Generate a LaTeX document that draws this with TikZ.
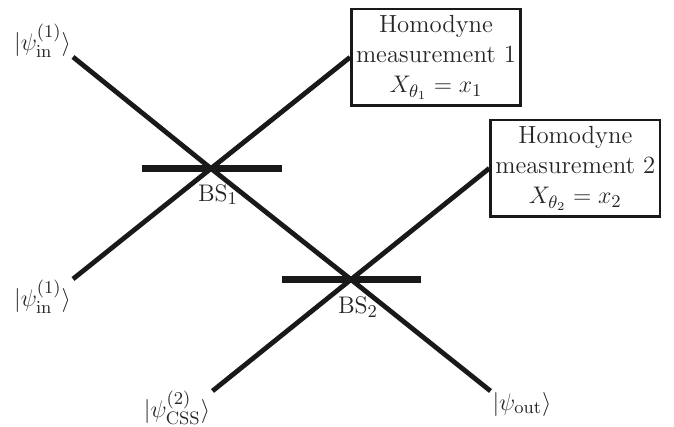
\documentclass[tikz,border=0pt]{standalone}
\begin{document}
\begin{tikzpicture}[x=0.5pt,y=-0.5pt,
  beam/.style={line width=2.4pt,black!90},
  splitter/.style={line width=3.7pt,black!90},
  lab/.style={inner sep=0pt,font=\fontsize{12.4}{15}\selectfont,text=black!85},
  meas/.style={lab,draw=black!90,line width=1.4pt,text=black!85,align=center,minimum width=84.6pt,minimum height=48.3pt}]
\useasboundingbox (0,0) rectangle (674,427);
\node[meas] (m1) at (436,57.3) {\baselineskip=15.5pt Homodyne\\measurement 1\\$X_{\theta_1}=x_1$};
\node[meas] (m2) at (575.3,168.3) {\baselineskip=15.5pt Homodyne\\measurement 2\\$X_{\theta_2}=x_2$};
\coordinate (bs1) at (211,168.5);
\coordinate (bs2) at (351,279.5);
\coordinate (a) at (73,57);
\coordinate (b) at (73,279);
\coordinate (c) at (212.5,391);
\coordinate (d) at (490.5,391);
\coordinate (bs1l) at (142,168.5);
\coordinate (bs1r) at (281.5,168.5);
\coordinate (bs2l) at (281.5,279.5);
\coordinate (bs2r) at (421,279.5);
\draw[splitter] (bs1l) -- (bs1r);
\draw[splitter] (bs2l) -- (bs2r);
\draw[beam] (a) -- (bs1) -- (bs2) -- (d);
\draw[beam] (b) -- (bs1) -- (m1.west);
\draw[beam] (c) -- (bs2) -- (m2.west);
\node[lab] (in1) at (42.5,40.5) {$|\psi_{\mathrm{in}}^{(1)}\rangle$};
\node[lab] (in2) at (42.5,297) {$|\psi_{\mathrm{in}}^{(1)}\rangle$};
\node[lab] (css) at (177,407.5) {$|\psi_{\mathrm{CSS}}^{(2)}\rangle$};
\node[lab] (out) at (522,404) {$|\psi_{\mathrm{out}}\rangle$};
\node[lab] (l1) at (218,195) {$\mathrm{BS}_1$};
\node[lab] (l2) at (358,307) {$\mathrm{BS}_2$};
\end{tikzpicture}
\end{document}
